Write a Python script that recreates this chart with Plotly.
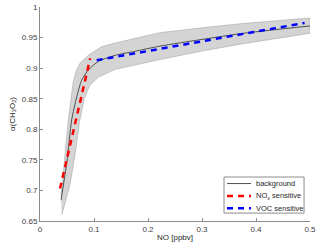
import plotly.graph_objects as go

# Background curve (alpha(CH3O2) vs NO)
bg_no = [0.039, 0.05, 0.0586, 0.068, 0.077, 0.0895, 0.108, 0.139, 0.173, 0.222, 0.3, 0.376, 0.5]
bg_alpha = [0.684, 0.748, 0.815, 0.853, 0.880, 0.897, 0.911, 0.921, 0.927, 0.936, 0.947, 0.957, 0.969]

# Uncertainty band edges
up_no = [0.039, 0.0524, 0.059, 0.0617, 0.067, 0.074, 0.0895, 0.114, 0.139, 0.173, 0.222, 0.3, 0.376, 0.5]
up_alpha = [0.690, 0.815, 0.860, 0.878, 0.895, 0.908, 0.921, 0.935, 0.941, 0.948, 0.958, 0.966, 0.973, 0.982]
lo_no = [0.0405, 0.0556, 0.066, 0.073, 0.082, 0.092, 0.108, 0.139, 0.173, 0.222, 0.3, 0.376, 0.5]
lo_alpha = [0.660, 0.710, 0.765, 0.812, 0.850, 0.872, 0.885, 0.898, 0.904, 0.914, 0.928, 0.940, 0.957]

# Sensitivity fits
nox_no = [0.037, 0.093]
nox_alpha = [0.703, 0.916]
voc_no = [0.105, 0.49]
voc_alpha = [0.913, 0.974]

x_ticks = [0, 0.1, 0.2, 0.3, 0.4, 0.5]
y_ticks = [0.65, 0.7, 0.75, 0.8, 0.85, 0.9, 0.95, 1]

legend_labels = ["background", "NO<sub>x</sub> sensitive", "VOC sensitive"]
legend_colors = ["#505050", "#ff0000", "#0000ff"]

font_family = "Liberation Sans, Arial, sans-serif"
dash = "6px,5px"

fig = go.Figure()
fig.add_trace(go.Scatter(
    x=up_no + lo_no[::-1], y=up_alpha + lo_alpha[::-1],
    fill="toself", fillcolor="#d4d4d4", mode="lines",
    line=dict(color="#a6a6a6", width=0.6), showlegend=False, hoverinfo="skip"))
fig.add_trace(go.Scatter(
    x=bg_no, y=bg_alpha, mode="lines", name=legend_labels[0], showlegend=False,
    line=dict(color=legend_colors[0], width=1, shape="spline", smoothing=0.6)))
fig.add_trace(go.Scatter(
    x=nox_no, y=nox_alpha, mode="lines", name=legend_labels[1], showlegend=False,
    line=dict(color=legend_colors[1], width=2.5, dash=dash)))
fig.add_trace(go.Scatter(
    x=voc_no, y=voc_alpha, mode="lines", name=legend_labels[2], showlegend=False,
    line=dict(color=legend_colors[2], width=2.5, dash=dash)))

# Legend box drawn in paper coordinates (MATLAB-style compact legend)
box_x0, box_x1, box_y0, box_y1 = 0.6815, 0.978, 0.037, 0.2056
row_y = [0.175, 0.117, 0.059]
fig.add_shape(type="rect", xref="paper", yref="paper", x0=box_x0, x1=box_x1, y0=box_y0, y1=box_y1,
              line=dict(color="#8c8c8c", width=1), fillcolor="white", layer="above")
for i, (lab, col) in enumerate(zip(legend_labels, legend_colors)):
    fig.add_shape(type="line", xref="paper", yref="paper", x0=0.6926, x1=0.7815,
                  y0=row_y[i], y1=row_y[i], layer="above",
                  line=dict(color=col, width=1 if i == 0 else 2.5, dash="solid" if i == 0 else dash))
    fig.add_annotation(xref="paper", yref="paper", x=0.7926, y=row_y[i], text=lab,
                       showarrow=False, xanchor="left", yanchor="middle",
                       font=dict(size=7.5, color="#262626", family=font_family))

axis_common = dict(
    showgrid=False, zeroline=False, showline=True, linecolor="#8c8c8c", linewidth=1,
    ticks="inside", ticklen=3, tickcolor="#8c8c8c",
    tickfont=dict(size=8, color="#404040", family=font_family),
)
fig.update_xaxes(range=[0, 0.5], tickvals=x_ticks, **axis_common,
                 title=dict(text="NO [ppbv]", font=dict(size=8, color="#262626", family=font_family), standoff=1))
fig.update_yaxes(range=[0.65, 1], tickvals=y_ticks, **axis_common,
                 title=dict(text="α(CH<sub>3</sub>O<sub>2</sub>)", font=dict(size=8, color="#262626", family=font_family), standoff=5))

fig.update_layout(
    width=320, height=251,
    margin=dict(l=40, r=10, t=7, b=30, autoexpand=False),
    plot_bgcolor="white", paper_bgcolor="white",
    font=dict(family=font_family),
    showlegend=False,
)
fig.write_html("out.html", config={"displayModeBar": False},
               post_script="document.body.style.margin='0';document.body.style.overflow='hidden';")
